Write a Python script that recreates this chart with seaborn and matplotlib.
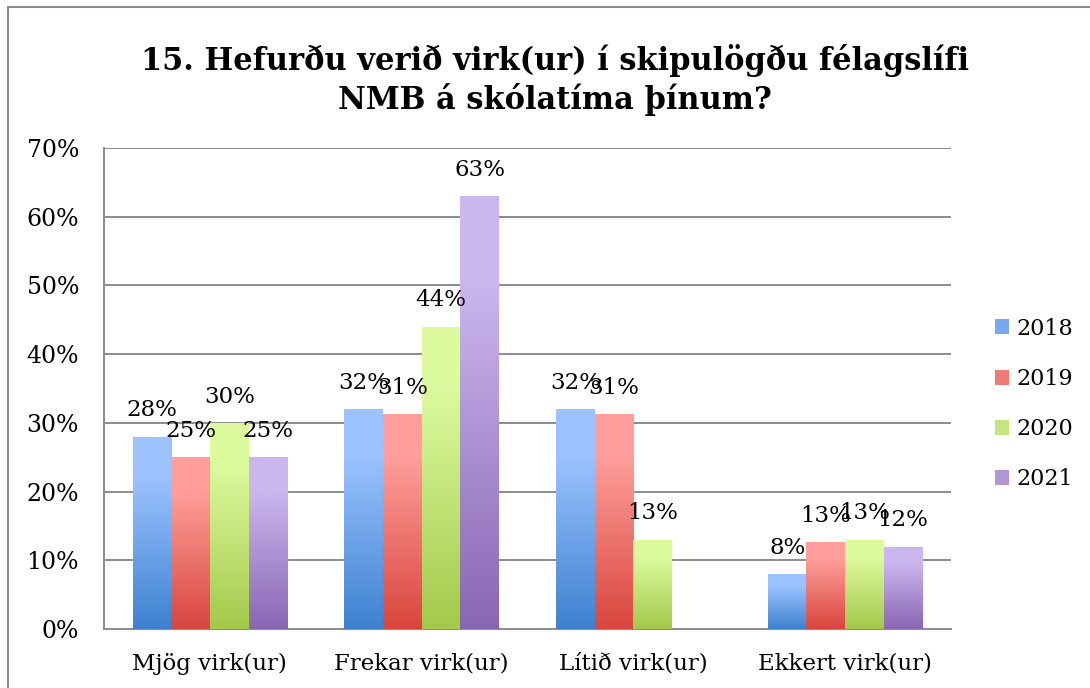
import numpy as np
import pandas as pd
import matplotlib
matplotlib.use("Agg")
import matplotlib.pyplot as plt
import seaborn as sns
from matplotlib.colors import LinearSegmentedColormap
from matplotlib.patches import Rectangle, Patch

categories = ["Mjög virk(ur)", "Frekar virk(ur)", "Lítið virk(ur)", "Ekkert virk(ur)"]
years = ["2018", "2019", "2020", "2021"]
v2018 = [28, 32, 32, 8]
v2019 = [25, 31.3, 31.3, 12.6]
v2020 = [30, 44, 13, 13]
v2021 = [25, 63, np.nan, 12]
yticks = [0, 10, 20, 30, 40, 50, 60, 70]
title = "15. Hefurðu verið virk(ur) í skipulögðu félagslífi\nNMB á skólatíma þínum?"

top_colors = ["#9dc3ff", "#ff9e9a", "#ddfa9e", "#cbb6ee"]
bot_colors = ["#3d82d0", "#d8463e", "#a3c94b", "#8966b3"]

series = [v2018, v2019, v2020, v2021]
rows = []
for y, vals in zip(years, series):
    for c, v in zip(categories, vals):
        rows.append({"cat": c, "year": y, "val": v})
df = pd.DataFrame(rows)

sns.set_style("white")
plt.rcParams["font.family"] = ["DejaVu Serif"]
plt.rcParams["text.color"] = "black"
plt.rcParams["xtick.color"] = "black"
plt.rcParams["ytick.color"] = "black"

fig = plt.figure(figsize=(10.9, 6.88), dpi=100)
ax = fig.add_axes([104/1090, 1-629/688, (951-104)/1090, (629-148)/688])

sns.barplot(data=df, x="cat", y="val", hue="year", order=categories, hue_order=years,
            palette=top_colors, width=0.73, ax=ax, legend=False, saturation=1)

ax.set_ylim(0, 70)
xlim = ax.get_xlim()

bars = [p for p in ax.patches]
for i, p in enumerate(bars):
    h = p.get_height()
    if not np.isfinite(h) or h <= 0:
        continue
    yi = i // len(categories)
    cmap = LinearSegmentedColormap.from_list("g", [bot_colors[yi], top_colors[yi]])
    x0 = p.get_x(); w = p.get_width()
    grad = np.linspace(0, 1, 256).reshape(-1, 1)
    grad = np.clip(grad * 1.25, 0, 1)
    im = ax.imshow(grad, extent=[x0, x0 + w, 0, h], origin="lower", aspect="auto",
                   cmap=cmap, zorder=3, interpolation="bilinear")
    im.set_clip_path(p)
    p.set_facecolor("none")
    p.set_edgecolor("none")
    p.set_zorder(3)
    ax.annotate(f"{int(np.floor(h + 0.5))}%", xy=(x0 + w / 2, h), xytext=(0, 11),
                textcoords="offset points", ha="center", va="bottom",
                fontsize=16.5, color="black", zorder=5)

ax.set_xlim(xlim)
ax.set_ylim(0, 70)
ax.set_yticks(yticks)
ax.set_yticklabels([f"{t}%" for t in yticks])
ax.yaxis.grid(True, color="#8c8c8c", linewidth=1.4)
ax.set_axisbelow(True)
for s in ["top", "right"]:
    ax.spines[s].set_visible(False)
for s in ["left", "bottom"]:
    ax.spines[s].set_color("#8c8c8c")
    ax.spines[s].set_linewidth(1.4)
ax.tick_params(axis="y", which="both", length=0, labelsize=17, pad=18)
ax.tick_params(axis="x", length=0, labelsize=16.5, pad=17)
ax.set_xlabel("")
ax.set_ylabel("")

handles = []
for i in range(4):
    c = LinearSegmentedColormap.from_list("g", [bot_colors[i], top_colors[i]])(0.6)
    handles.append(Patch(facecolor=c, edgecolor="none"))
leg = fig.legend(handles, years, loc="center left", bbox_to_anchor=(975/1090, 1-404/688),
                 frameon=False, fontsize=16, handlelength=0.65, handleheight=0.65,
                 handletextpad=0.3, labelspacing=1.27)

fig.text(555/1090, 1-80/688, title, ha="center", va="center", fontsize=22,
         fontweight="bold", linespacing=1.2)

fig.patches.append(Rectangle((8/1090, -0.1), 1.2, 1 - 7/688 + 0.1, transform=fig.transFigure,
                             fill=False, edgecolor="#8c8c8c", linewidth=1.5))

fig.savefig("out.png", dpi=100)
